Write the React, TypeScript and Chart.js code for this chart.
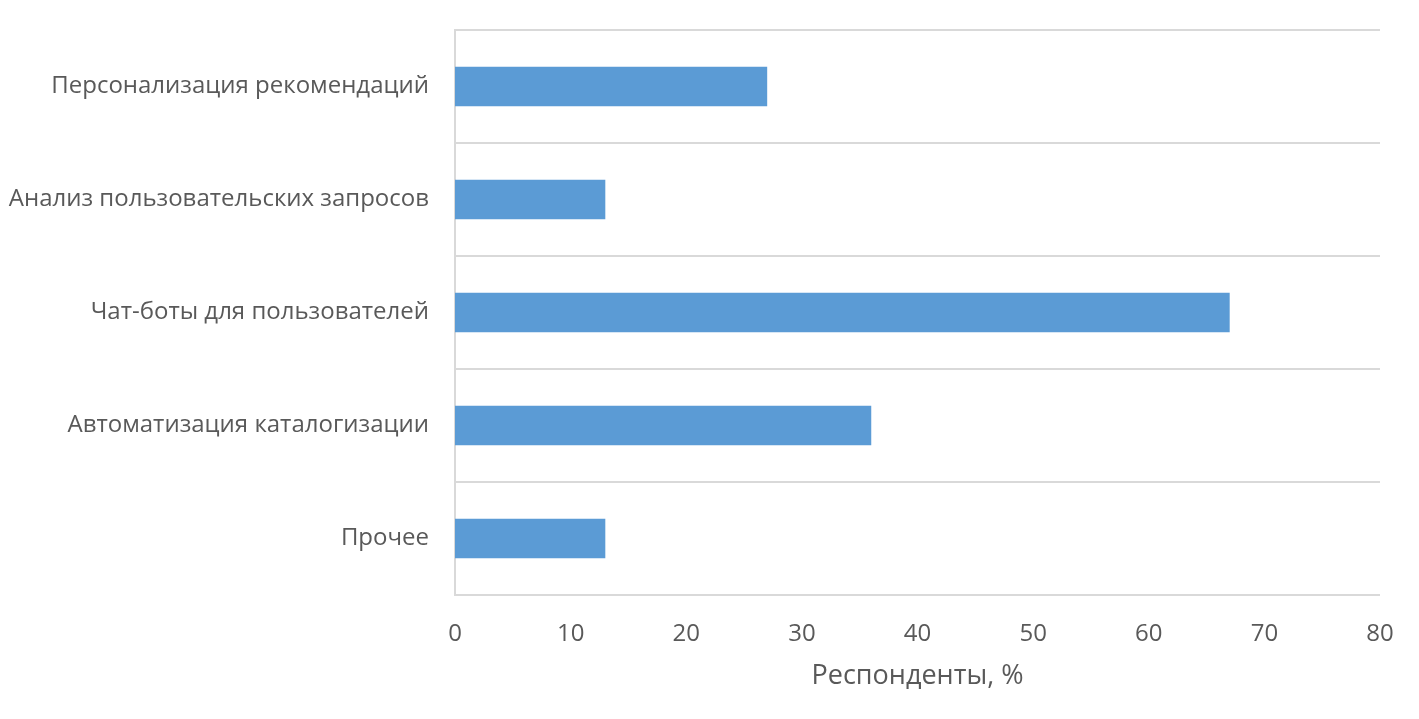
import React, { useEffect, useRef } from 'react'
import { Chart, registerables } from 'chart.js'

Chart.register(...registerables)

const categories = [
	'Персонализация рекомендаций',
	'Анализ пользовательских запросов',
	'Чат-боты для пользователей',
	'Автоматизация каталогизации',
	'Прочее',
]
const respondents = [27, 13, 67, 36, 13]
const axisTitle = 'Респонденты, %'

const FONT = '"Open Sans", sans-serif'
const TEXT = '#595959'
const GRID = '#D9D9D9'

const App: React.FC = () => {
	const chartRef = useRef<HTMLCanvasElement>(null)

	useEffect(() => {
		if (!chartRef.current) return
		const context = chartRef.current.getContext('2d')
		if (!context) return

		const chart = new Chart(context, {
			type: 'bar',
			data: {
				labels: categories,
				datasets: [
					{
						label: axisTitle,
						data: respondents,
						backgroundColor: '#5B9BD5',
						categoryPercentage: 1,
						barPercentage: 0.35,
					},
				],
			},
			options: {
				indexAxis: 'y',
				animation: false,
				responsive: false,
				layout: { padding: { top: 30, right: 39, bottom: 0, left: 0 } },
				plugins: {
					legend: { display: false },
					tooltip: { enabled: false },
				},
				scales: {
					x: {
						min: 0,
						max: 80,
						ticks: {
							stepSize: 10,
							color: TEXT,
							font: { family: FONT, size: 24 },
							padding: 25,
						},
						grid: { display: false, drawTicks: false },
						border: { display: false },
						title: {
							display: true,
							text: axisTitle,
							color: TEXT,
							font: { family: FONT, size: 27 },
							padding: { top: 0, bottom: 26 },
						},
						afterFit: (scale) => {
							scale.height = 124
							scale.paddingLeft = 0
							scale.paddingRight = 0
						},
					},
					y: {
						ticks: {
							color: TEXT,
							font: { family: FONT, size: 24 },
							padding: 26,
						},
						grid: {
							offset: true,
							color: GRID,
							lineWidth: 2,
							drawTicks: false,
						},
						border: { display: true, color: GRID, width: 2 },
						afterFit: (scale) => {
							scale.width = 455
							scale.paddingTop = 0
							scale.paddingBottom = 0
						},
					},
				},
			},
		})

		return () => {
			chart.destroy()
		}
	}, [])

	return (
		<div style={{ position: 'fixed', left: 0, top: 0, width: 1419, height: 719, background: '#fff' }}>
			<canvas ref={chartRef} width={1419} height={719} />
		</div>
	)
}

export default App
